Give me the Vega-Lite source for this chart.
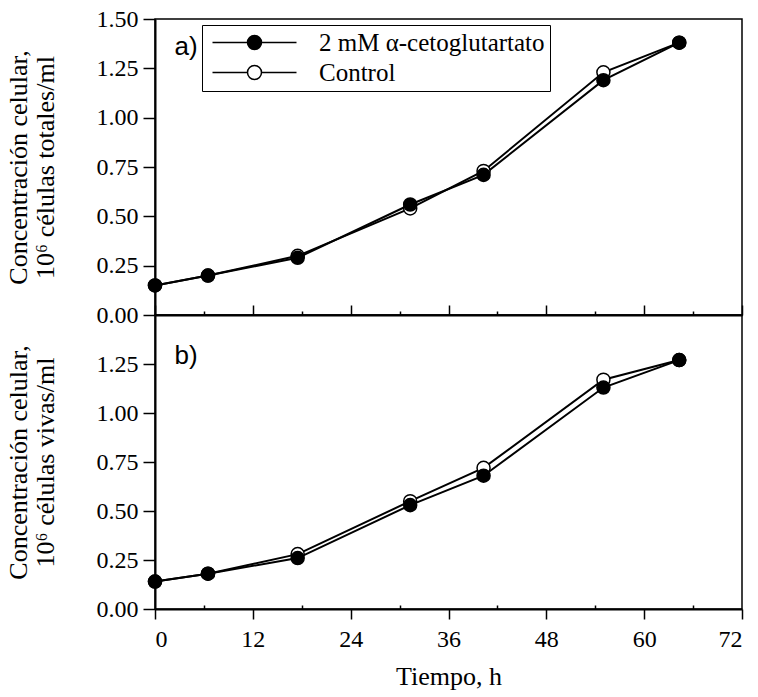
{
  "$schema": "https://vega.github.io/schema/vega-lite/v6.json",
  "background": "white",
  "padding": {"left": 4, "top": 6, "right": 5, "bottom": 3},
  "bounds": "flush",
  "datasets": {
    "a": [
      {"t": 0, "v": 0.15, "s": "Control"},
      {"t": 6.5, "v": 0.20, "s": "Control"},
      {"t": 17.5, "v": 0.30, "s": "Control"},
      {"t": 31.3, "v": 0.54, "s": "Control"},
      {"t": 40.3, "v": 0.73, "s": "Control"},
      {"t": 55, "v": 1.23, "s": "Control"},
      {"t": 64.3, "v": 1.38, "s": "Control"},
      {"t": 0, "v": 0.15, "s": "2 mM α-cetoglutartato"},
      {"t": 6.5, "v": 0.20, "s": "2 mM α-cetoglutartato"},
      {"t": 17.5, "v": 0.29, "s": "2 mM α-cetoglutartato"},
      {"t": 31.3, "v": 0.56, "s": "2 mM α-cetoglutartato"},
      {"t": 40.3, "v": 0.71, "s": "2 mM α-cetoglutartato"},
      {"t": 55, "v": 1.19, "s": "2 mM α-cetoglutartato"},
      {"t": 64.3, "v": 1.38, "s": "2 mM α-cetoglutartato"}
    ],
    "b": [
      {"t": 0, "v": 0.14, "s": "Control"},
      {"t": 6.5, "v": 0.18, "s": "Control"},
      {"t": 17.5, "v": 0.28, "s": "Control"},
      {"t": 31.3, "v": 0.55, "s": "Control"},
      {"t": 40.3, "v": 0.72, "s": "Control"},
      {"t": 55, "v": 1.17, "s": "Control"},
      {"t": 64.3, "v": 1.27, "s": "Control"},
      {"t": 0, "v": 0.14, "s": "2 mM α-cetoglutartato"},
      {"t": 6.5, "v": 0.18, "s": "2 mM α-cetoglutartato"},
      {"t": 17.5, "v": 0.26, "s": "2 mM α-cetoglutartato"},
      {"t": 31.3, "v": 0.53, "s": "2 mM α-cetoglutartato"},
      {"t": 40.3, "v": 0.68, "s": "2 mM α-cetoglutartato"},
      {"t": 55, "v": 1.13, "s": "2 mM α-cetoglutartato"},
      {"t": 64.3, "v": 1.27, "s": "2 mM α-cetoglutartato"}
    ],
    "labA": [{"t": 3.8, "v": 1.36, "txt": "a)"}],
    "labB": [{"t": 3.8, "v": 1.29, "txt": "b)"}]
  },
  "spacing": 0,
  "resolve": {"scale": {"fill": "independent"}, "legend": {"fill": "independent"}},
  "vconcat": [
    {
      "width": 587,
      "height": 296,
      "layer": [
        {
          "data": {"name": "a"},
          "mark": {"type": "line", "color": "black", "strokeWidth": 2},
          "encoding": {
            "x": {"field": "t", "type": "quantitative", "scale": {"domain": [0, 72], "nice": false},
                  "axis": {"labels": false, "title": null,
                           "values": [0, 6, 12, 18, 24, 30, 36, 42, 48, 54, 60, 66, 72],
                           "tickSize": {"condition": {"test": "datum.value % 12 === 0", "value": -10}, "value": -4}}},
            "y": {"field": "v", "type": "quantitative", "scale": {"domain": [0, 1.5], "nice": false},
                  "axis": {"values": [0, 0.25, 0.5, 0.75, 1, 1.25, 1.5], "format": ".2f",
                           "title": ["Concentración celular,", "10⁶ células totales/ml"]}},
            "detail": {"field": "s"}
          }
        },
        {
          "data": {"name": "a"},
          "mark": {"type": "point", "shape": "circle", "filled": true, "stroke": "black", "strokeWidth": 1.5, "size": 170, "opacity": 1},
          "encoding": {
            "x": {"field": "t", "type": "quantitative"},
            "y": {"field": "v", "type": "quantitative"},
            "fill": {"field": "s", "type": "nominal",
                     "scale": {"domain": ["2 mM α-cetoglutartato", "Control"], "range": ["black", "white"]},
                     "legend": {"orient": "none", "legendX": 47, "legendY": 6, "title": null,
                                "symbolType": "M4,0A1,1 0 1,0 6,0A1,1 0 1,0 4,0Z M-1,0H4 M6,0H11",
                                "symbolSize": 196, "symbolStrokeColor": "black", "symbolStrokeWidth": 1.5,
                                "symbolOpacity": 1, "labelLimit": 500,
                                "labelOffset": 87, "labelFont": "Liberation Serif", "labelFontSize": 25,
                                "labelColor": "black", "strokeColor": "black",
                                "padding": 5, "rowPadding": 4, "fillColor": "white"}}
          }
        },
        {
          "data": {"name": "labA"},
          "mark": {"type": "text", "font": "Liberation Sans", "fontSize": 26, "color": "black"},
          "encoding": {
            "x": {"field": "t", "type": "quantitative"},
            "y": {"field": "v", "type": "quantitative"},
            "text": {"field": "txt"}
          }
        }
      ]
    },
    {
      "width": 587,
      "height": 294,
      "layer": [
        {
          "data": {"name": "b"},
          "mark": {"type": "line", "color": "black", "strokeWidth": 2},
          "encoding": {
            "x": {"field": "t", "type": "quantitative", "scale": {"domain": [0, 72], "nice": false},
                  "axis": {"values": [0, 6, 12, 18, 24, 30, 36, 42, 48, 54, 60, 66, 72],
                           "labelExpr": "datum.value % 12 === 0 ? datum.label : ''",
                           "tickSize": {"condition": {"test": "datum.value % 12 === 0", "value": 10}, "value": -4},
                           "title": "Tiempo, h", "labelPadding": 8, "titlePadding": 12}},
            "y": {"field": "v", "type": "quantitative", "scale": {"domain": [0, 1.5], "nice": false},
                  "axis": {"values": [0, 0.25, 0.5, 0.75, 1, 1.25], "format": ".2f",
                           "title": ["Concentración celular,", "10⁶ células vivas/ml"]}},
            "detail": {"field": "s"}
          }
        },
        {
          "data": {"name": "b"},
          "mark": {"type": "point", "shape": "circle", "filled": true, "stroke": "black", "strokeWidth": 1.5, "size": 170, "opacity": 1},
          "encoding": {
            "x": {"field": "t", "type": "quantitative"},
            "y": {"field": "v", "type": "quantitative"},
            "fill": {"field": "s", "type": "nominal",
                     "scale": {"domain": ["2 mM α-cetoglutartato", "Control"], "range": ["black", "white"]},
                     "legend": null}
          }
        },
        {
          "data": {"name": "labB"},
          "mark": {"type": "text", "font": "Liberation Sans", "fontSize": 26, "color": "black"},
          "encoding": {
            "x": {"field": "t", "type": "quantitative"},
            "y": {"field": "v", "type": "quantitative"},
            "text": {"field": "txt"}
          }
        }
      ]
    }
  ],
  "config": {
    "view": {"stroke": "black", "strokeWidth": 1.5},
    "legend": {"labelFont": "Liberation Serif"},
    "axis": {
      "grid": false,
      "domainColor": "black", "domainWidth": 2,
      "tickColor": "black", "tickWidth": 1.5,
      "labelFont": "Liberation Serif", "labelFontSize": 24, "labelColor": "black",
      "titleFont": "Liberation Serif", "titleFontSize": 26, "titleFontWeight": "normal", "titleColor": "black"
    },
    "axisY": {"tickSize": 12, "labelPadding": 5, "titlePadding": 38, "titleLineHeight": 27}
  }
}
